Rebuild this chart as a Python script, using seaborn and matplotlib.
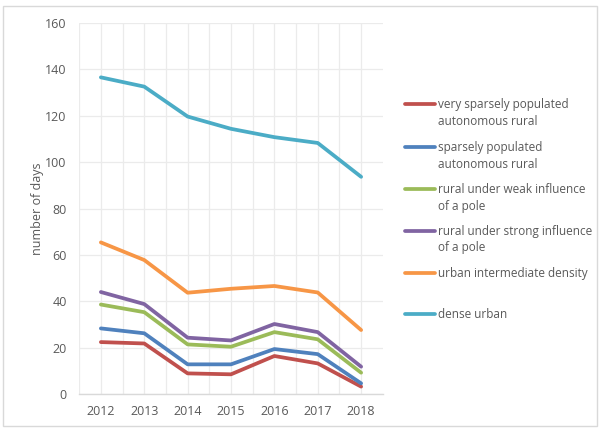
import matplotlib
matplotlib.use("Agg")
import matplotlib.pyplot as plt
import seaborn as sns
import pandas as pd
from matplotlib.lines import Line2D
from matplotlib.patches import Rectangle

years = [2012, 2013, 2014, 2015, 2016, 2017, 2018]
series_names = [
    "very sparsely populated\nautonomous rural",
    "sparsely populated\nautonomous rural",
    "rural under weak influence\nof a pole",
    "rural under strong influence\nof a pole",
    "urban intermediate density",
    "dense urban",
]
very_sparse = [22.4, 21.8, 8.9, 8.5, 16.4, 13.2, 3.2]
sparse = [28.3, 26.2, 12.8, 12.8, 19.4, 17.2, 4.6]
rural_weak = [38.6, 35.3, 21.4, 20.4, 26.7, 23.6, 9.2]
rural_strong = [44.0, 38.8, 24.3, 23.1, 30.2, 26.7, 11.8]
urban_inter = [65.4, 57.8, 43.7, 45.4, 46.6, 43.8, 27.6]
dense_urban = [136.6, 132.6, 119.7, 114.4, 110.8, 108.3, 93.7]
colors = ["#C0504D", "#4F81BD", "#9BBB59", "#8064A2", "#F79646", "#4BACC6"]

values = [very_sparse, sparse, rural_weak, rural_strong, urban_inter, dense_urban]
rows = []
for name, vals in zip(series_names, values):
    for y, v in zip(years, vals):
        rows.append({"year": y, "days": v, "series": name})
df = pd.DataFrame(rows)

sns.set_theme(style="white")
plt.rcParams["font.family"] = ["Open Sans", "DejaVu Sans"]

fig = plt.figure(figsize=(6.0, 4.28), dpi=100)
ax = fig.add_axes([0.132, 0.0794, 0.506, 0.8666])

sns.lineplot(data=df, x="year", y="days", hue="series", hue_order=series_names,
             palette=colors, linewidth=2.7, legend=False, ax=ax)
for ln in ax.get_lines():
    ln.set_solid_joinstyle("round")
    ln.set_solid_capstyle("round")

ax.set_xlim(2011.5, 2018.5)
ax.set_ylim(0, 160)
ax.set_yticks(range(0, 161, 20))
ax.set_xticks(years)
ax.set_xticks([y + 0.5 for y in years[:-1]] + [2011.5], minor=True)
ax.grid(True, which="both", color="#ebebeb", linewidth=0.9)
ax.set_axisbelow(True)
for s in ["top", "right", "left"]:
    ax.spines[s].set_visible(False)
ax.spines["bottom"].set_color("#d9d9d9")
ax.spines["bottom"].set_linewidth(1.0)
ax.tick_params(axis="both", which="both", length=0, colors="#595959", labelsize=9)
ax.tick_params(axis="y", pad=9)
ax.tick_params(axis="x", pad=8)
ax.set_xlabel("")
ax.set_ylabel("number of days", color="#595959", fontsize=9, labelpad=1)

# manual legend (Excel style: handle aligned with first text line)
W, H = 600.0, 428.0
leg_y = [104, 147, 189, 231, 273, 314]
for name, col, yy in zip(series_names, colors, leg_y):
    fy = 1 - yy / H
    fig.add_artist(Line2D([405 / W, 435 / W], [fy, fy], color=col, linewidth=2.7,
                          transform=fig.transFigure))
    fig.text(438 / W, fy + 6 / H, name, ha="left", va="top", fontsize=8.5,
             color="#595959", linespacing=1.35)

fig.add_artist(Rectangle((3 / W, 2 / H), 594 / W, 420 / H, transform=fig.transFigure,
                         fill=False, edgecolor="#d9d9d9", linewidth=1.0))

fig.savefig("out.png", dpi=100)
